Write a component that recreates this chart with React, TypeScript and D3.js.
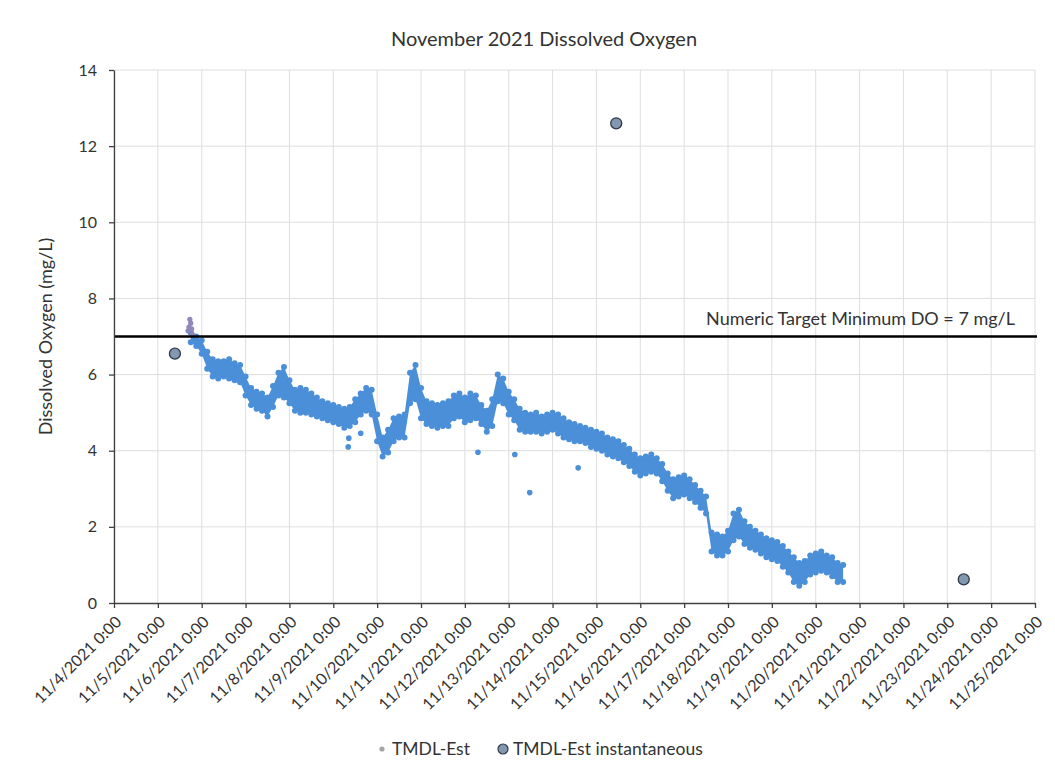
import React, { useEffect, useRef } from 'react';
import * as d3 from 'd3';

const W = 1055;
const H = 768;

// TMDL-Est band, one reading every 3 hours starting 11/5 18:00 (low / high edge of the dot cloud)
const bandStart = new Date(2021, 10, 5, 18);
const bandStepHours = 3;
const bandLow = [
    6.85, 6.75, 6.55, 6.15, 5.95, 5.9, 5.95, 5.9, 5.85, 5.8,
    5.45, 5.2, 5.1, 5.05, 4.9, 5.15, 5.45, 5.4, 5.25, 5.05,
    5.0, 5.0, 4.95, 4.9, 4.85, 4.8, 4.75, 4.7, 4.6, 4.65,
    4.75, 4.95, 5.05, 4.95, 4.25, 3.85, 3.95, 4.25, 4.35, 4.35,
    5.25, 5.35, 4.85, 4.7, 4.65, 4.6, 4.65, 4.65, 4.85, 4.9,
    4.75, 4.8, 4.85, 4.7, 4.5, 4.65, 5.3, 5.25, 4.95, 4.8,
    4.55, 4.5, 4.5, 4.5, 4.45, 4.5, 4.55, 4.45, 4.35, 4.3,
    4.25, 4.25, 4.2, 4.1, 4.05, 4.0, 3.9, 3.85, 3.8, 3.7,
    3.6, 3.45, 3.35, 3.4, 3.45, 3.4, 3.2, 2.95, 2.75, 2.8,
    2.85, 2.75, 2.65, 2.5, 2.35, 1.35, 1.25, 1.25, 1.35, 1.65,
    1.75, 1.55, 1.45, 1.4, 1.3, 1.2, 1.15, 1.1, 0.95, 0.8,
    0.55, 0.45, 0.55, 0.75, 0.8, 0.85, 0.8, 0.7, 0.55, 0.55
];
const bandHigh = [
    7.1, 7.0, 6.9, 6.6, 6.4, 6.35, 6.35, 6.4, 6.3, 6.25,
    5.95, 5.65, 5.55, 5.5, 5.4, 5.7, 6.05, 6.2, 5.85, 5.6,
    5.65, 5.6, 5.5, 5.4, 5.3, 5.25, 5.2, 5.15, 5.1, 5.15,
    5.35, 5.5, 5.65, 5.6, 4.95, 4.35, 4.55, 4.85, 4.9, 4.95,
    6.05, 6.25, 5.65, 5.3, 5.25, 5.2, 5.25, 5.3, 5.45, 5.5,
    5.4, 5.5, 5.45, 5.2, 5.05, 5.35, 6.0, 5.9, 5.55, 5.35,
    5.1, 5.0, 4.95, 5.0, 4.9, 4.95, 5.0, 4.95, 4.85, 4.75,
    4.7, 4.65, 4.6, 4.55, 4.5, 4.45, 4.35, 4.3, 4.25, 4.15,
    4.05, 3.9, 3.8, 3.85, 3.9, 3.8, 3.65, 3.4, 3.25, 3.3,
    3.35, 3.25, 3.1, 2.95, 2.8, 1.85, 1.8, 1.75, 1.9, 2.35,
    2.45, 2.15, 2.0, 1.9, 1.8, 1.7, 1.65, 1.6, 1.5, 1.35,
    1.2, 1.05, 1.1, 1.25, 1.3, 1.35, 1.25, 1.2, 1.05, 1.0
];

// stray low readings below the main cloud
const strayTimes = [
    new Date(2021, 10, 9, 8, 10), new Date(2021, 10, 9, 8, 30), new Date(2021, 10, 9, 15, 0),
    new Date(2021, 10, 12, 7, 10), new Date(2021, 10, 13, 3, 20),
    new Date(2021, 10, 13, 11, 30), new Date(2021, 10, 14, 14, 0)
];
const strayValues = [4.1, 4.33, 4.46, 3.96, 3.9, 2.9, 3.55];

// first few TMDL-Est points (grey) before the blue cloud starts
const earlyTimes = [
    new Date(2021, 10, 5, 16, 30), new Date(2021, 10, 5, 17, 0), new Date(2021, 10, 5, 17, 30),
    new Date(2021, 10, 5, 18, 0), new Date(2021, 10, 5, 18, 30), new Date(2021, 10, 5, 19, 0)
];
const earlyValues = [7.15, 7.25, 7.45, 7.35, 7.2, 7.05];

// TMDL-Est instantaneous grab samples
const instTimes = [new Date(2021, 10, 5, 9, 20), new Date(2021, 10, 15, 10, 50), new Date(2021, 10, 23, 9, 0)];
const instValues = [6.55, 12.6, 0.62];

const targetDO = 7;
const yTicks = [0, 2, 4, 6, 8, 10, 12, 14];
const xStart = new Date(2021, 10, 4);
const xEnd = new Date(2021, 10, 25);

const FONT = 'Lato, "Open Sans", sans-serif';
const TEXT = '#333333';
const BLUE = '#4a8fd8';

const App = () => {
    const chartRef = useRef<SVGSVGElement>(null);

    useEffect(() => {
        document.body.style.margin = '0';
        const svg = d3.select(chartRef.current);
        svg.selectAll('*').remove();

        const x = d3.scaleTime().domain([xStart, xEnd]).range([114, 1035]);
        const y = d3.scaleLinear().domain([0, 14]).range([603, 70]);

        const bandTimes = bandLow.map((_, i) => d3.timeHour.offset(bandStart, i * bandStepHours));

        // gridlines
        const dayTicks = x.ticks(d3.timeDay.every(1));
        svg.append('g').selectAll('line')
            .data(dayTicks)
            .enter()
            .append('line')
            .attr('x1', d => x(d)).attr('x2', d => x(d))
            .attr('y1', y(14)).attr('y2', y(0))
            .attr('stroke', '#dedede').attr('stroke-width', 1);
        svg.append('g').selectAll('line')
            .data(yTicks.filter(d => d > 0))
            .enter()
            .append('line')
            .attr('x1', x(xStart)).attr('x2', x(xEnd))
            .attr('y1', d => y(d)).attr('y2', d => y(d))
            .attr('stroke', '#dedede').attr('stroke-width', 1);

        // blue dot cloud: filled band plus dots along both edges
        const area = d3.area<number>()
            .x((_, i) => x(bandTimes[i]))
            .y0((_, i) => y(bandLow[i]))
            .y1((_, i) => y(bandHigh[i]));
        svg.append('path')
            .datum(bandLow)
            .attr('fill', BLUE)
            .attr('d', area);
        const edgeDots = bandTimes.flatMap((t, i) => [[t, bandLow[i]], [t, bandHigh[i]]] as [Date, number][]);
        svg.append('g').selectAll('circle')
            .data(edgeDots)
            .enter()
            .append('circle')
            .attr('cx', d => x(d[0]))
            .attr('cy', d => y(d[1]))
            .attr('r', 3)
            .attr('fill', BLUE);
        svg.append('g').selectAll('circle')
            .data(strayTimes.map((t, i) => [t, strayValues[i]] as [Date, number]))
            .enter()
            .append('circle')
            .attr('cx', d => x(d[0]))
            .attr('cy', d => y(d[1]))
            .attr('r', 2.8)
            .attr('fill', BLUE);
        svg.append('g').selectAll('circle')
            .data(earlyTimes.map((t, i) => [t, earlyValues[i]] as [Date, number]))
            .enter()
            .append('circle')
            .attr('cx', d => x(d[0]))
            .attr('cy', d => y(d[1]))
            .attr('r', 2.6)
            .attr('fill', '#8f88ba');

        // target line
        svg.append('line')
            .attr('x1', x(xStart)).attr('x2', x(xEnd) + 2)
            .attr('y1', y(targetDO)).attr('y2', y(targetDO))
            .attr('stroke', '#000').attr('stroke-width', 2.6);
        svg.append('text')
            .attr('x', 1015).attr('y', y(targetDO) - 12)
            .attr('text-anchor', 'end')
            .style('font-family', FONT).style('font-size', '18px').attr('fill', TEXT)
            .text('Numeric Target Minimum DO = 7 mg/L');

        // instantaneous samples
        svg.append('g').selectAll('circle')
            .data(instTimes.map((t, i) => [t, instValues[i]] as [Date, number]))
            .enter()
            .append('circle')
            .attr('cx', d => x(d[0]))
            .attr('cy', d => y(d[1]))
            .attr('r', 5.5)
            .attr('fill', '#8497b0')
            .attr('stroke', '#2e3a4a')
            .attr('stroke-width', 1.3);

        // axes
        const fmt = d3.timeFormat('%-m/%-d/%Y %-H:%M');
        const xAxis = svg.append('g')
            .attr('transform', `translate(0,${y(0)})`)
            .call(d3.axisBottom(x).tickValues(dayTicks).tickFormat(d => fmt(d as Date)).tickSize(5).tickSizeOuter(0));
        const yAxis = svg.append('g')
            .attr('transform', `translate(${x(xStart)},0)`)
            .call(d3.axisLeft(y).tickValues(yTicks).tickSize(5).tickPadding(12).tickSizeOuter(0));

        [xAxis, yAxis].forEach(g => {
            g.select('.domain').attr('stroke', '#404040').attr('stroke-width', 1.3);
            g.selectAll('.tick line').attr('stroke', '#404040').attr('stroke-width', 1.3);
            g.selectAll('text')
                .style('font-family', FONT).style('font-size', '16px').attr('fill', TEXT);
        });
        xAxis.selectAll('text')
            .attr('y', 0).attr('dy', '0.35em')
            .attr('text-anchor', 'end')
            .attr('transform', 'translate(4,16) rotate(-45)');

        // titles
        svg.append('text')
            .attr('x', 544).attr('y', 46)
            .attr('text-anchor', 'middle')
            .style('font-family', FONT).style('font-size', '20px').attr('fill', TEXT)
            .text('November 2021 Dissolved Oxygen');
        svg.append('text')
            .attr('transform', `translate(52,${(y(0) + y(14)) / 2}) rotate(-90)`)
            .attr('text-anchor', 'middle')
            .style('font-family', FONT).style('font-size', '18px').attr('fill', TEXT)
            .text('Dissolved Oxygen (mg/L)');

        // legend
        const legend = svg.append('g').attr('transform', 'translate(0,755)');
        legend.append('circle').attr('cx', 382).attr('cy', -6).attr('r', 2.6).attr('fill', '#a5a5a5');
        legend.append('text').attr('x', 392).attr('y', 0)
            .style('font-family', FONT).style('font-size', '17.5px').attr('fill', TEXT)
            .text('TMDL-Est');
        legend.append('circle').attr('cx', 503).attr('cy', -6).attr('r', 5)
            .attr('fill', '#8497b0').attr('stroke', '#2e3a4a').attr('stroke-width', 1.2);
        legend.append('text').attr('x', 513).attr('y', 0)
            .style('font-family', FONT).style('font-size', '17.5px').attr('fill', TEXT)
            .text('TMDL-Est instantaneous');
    }, []);

    return (
        <svg ref={chartRef} width={W} height={H} style={{ display: 'block', background: '#fff' }}></svg>
    );
};

export default App;
